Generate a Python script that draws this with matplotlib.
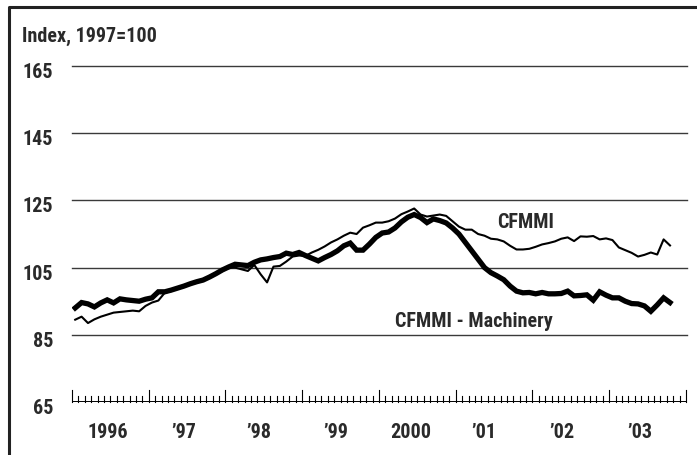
import numpy as np
import matplotlib
matplotlib.use("Agg")
import matplotlib.pyplot as plt
from matplotlib import font_manager
from matplotlib.lines import Line2D

# Condensed face if one is installed, otherwise Liberation Sans a bit smaller.
installed = {f.name for f in font_manager.fontManager.ttflist}
FONT, FSIZE = "Liberation Sans", 12.8
for name in ["Liberation Sans Narrow", "Roboto Condensed", "Open Sans Condensed",
             "Noto Sans Condensed", "DejaVu Sans Condensed"]:
    if name in installed:
        FONT, FSIZE = name, 14.5
        break
plt.rcParams["font.family"] = [FONT, "DejaVu Sans"]

# Monthly index values, Jan 1996 - Oct 2003 (1997=100)
cfmmi = [
    89.5, 90.4, 88.5, 89.6, 90.4, 91.0, 91.6, 91.8, 92.0, 92.2, 92.0, 93.6,
    94.6, 95.2, 97.5, 98.0, 98.8, 99.3, 100.0, 100.6, 101.2, 102.0, 103.0, 104.0,
    105.0, 105.0, 104.5, 104.0, 105.8, 103.0, 100.6, 105.3, 105.5, 106.8, 108.3, 108.6,
    108.5, 109.5, 110.3, 111.3, 112.5, 113.4, 114.5, 115.4, 115.0, 116.9, 117.6, 118.4,
    118.4, 118.8, 119.6, 120.9, 121.7, 122.6, 120.8, 120.2, 120.5, 120.8, 120.4, 118.8,
    117.2, 116.3, 116.3, 115.0, 114.5, 113.6, 113.4, 112.8, 111.5, 110.4, 110.4, 110.6,
    111.2, 111.9, 112.3, 112.8, 113.6, 114.0, 112.9, 114.3, 114.2, 114.4, 113.4, 113.7,
    113.2, 111.0, 110.2, 109.4, 108.3, 108.8, 109.5, 108.9, 113.4, 111.6,
]
machinery = [
    93.0, 94.6, 94.2, 93.3, 94.5, 95.4, 94.5, 95.7, 95.4, 95.2, 95.0, 95.6,
    96.0, 97.8, 97.8, 98.3, 98.9, 99.5, 100.2, 100.8, 101.3, 102.2, 103.2, 104.3,
    105.2, 106.0, 105.8, 105.6, 106.6, 107.3, 107.6, 108.0, 108.3, 109.3, 108.9, 109.5,
    108.6, 107.8, 107.0, 108.0, 108.9, 110.0, 111.5, 112.3, 110.2, 110.2, 112.0, 114.0,
    115.3, 115.6, 116.8, 118.6, 120.0, 120.8, 119.9, 118.4, 119.5, 119.0, 118.3, 116.8,
    115.0, 112.5, 110.0, 107.5, 105.0, 103.5, 102.5, 101.4, 99.5, 98.0, 97.5, 97.6,
    97.2, 97.6, 97.2, 97.2, 97.3, 98.0, 96.6, 96.7, 96.9, 95.3, 97.8, 96.8,
    96.0, 96.0, 95.0, 94.3, 94.2, 93.6, 92.0, 93.9, 96.0, 94.6,
]
start_year = 1996
year_labels = ["1996", "\u201997", "\u201998", "\u201999", "2000", "\u201901", "\u201902", "\u201903"]
y_ticks = [65, 85, 105, 125, 145, 165]

# hand-placed label centres (fraction of a year past each Jan 1)
LABEL_OFFSETS = [0.47, 0.45, 0.43, 0.44, 0.42, 0.36, 0.38, 0.40]

t = start_year + (np.arange(len(cfmmi)) + 0.5) / 12

fig = plt.figure(figsize=(6.97, 4.55), dpi=100)
ax = fig.add_axes([72 / 697, 53 / 455, 614 / 697, 352.75 / 455])
ax.set_xlim(1996, 2004)
ax.set_ylim(65, 170)

# horizontal rules
for v in y_ticks[1:]:
    ax.axhline(v, xmin=0, xmax=1.0016, color="#3a3a3a", lw=1.0, clip_on=False, zorder=1)
ax.axhline(65, color="black", lw=1.4, zorder=2)

# month ticks along the baseline
months = np.arange(1996, 2004 + 1e-9, 1 / 12)
for i, m in enumerate(months):
    h = 3.7 if i % 12 == 0 else 1.8
    ax.plot([m, m], [65, 65 + h], color="black", lw=0.8, zorder=2, clip_on=False)

ax.plot(t, machinery, color="black", lw=3.8, solid_joinstyle="miter", zorder=3)
ax.plot(t, cfmmi, color="black", lw=1.5, zorder=4)

for s in ax.spines.values():
    s.set_visible(False)
ax.set_xticks([])
ax.set_yticks([])

txt = dict(fontsize=FSIZE, fontweight="bold", color="#2a2a2a")
ytr = ax.get_yaxis_transform()
for v in y_ticks:
    ax.text(-19 / 614, v - 1.9, str(v), transform=ytr, ha="right", va="center", **txt)
for k, lab in enumerate(year_labels):
    ax.text(start_year + k + LABEL_OFFSETS[k], 56.0, lab, ha="center", va="center", **txt)

ax.text(2001.54, 118.3, "CFMMI", ha="left", va="center", **txt)
ax.text(2000.21, 88.9, "CFMMI - Machinery", ha="left", va="center", **txt)
fig.text(22 / 697, 1 - 36 / 455, "Index, 1997=100", ha="left", va="center", **txt)

# outer frame (open to the right and bottom)
fig.add_artist(Line2D([9 / 697, 9 / 697, 1.0], [0.0, 1 - 6.5 / 455, 1 - 6.5 / 455],
                      color="#222222", lw=2.2))

fig.savefig("out.png", dpi=100)
